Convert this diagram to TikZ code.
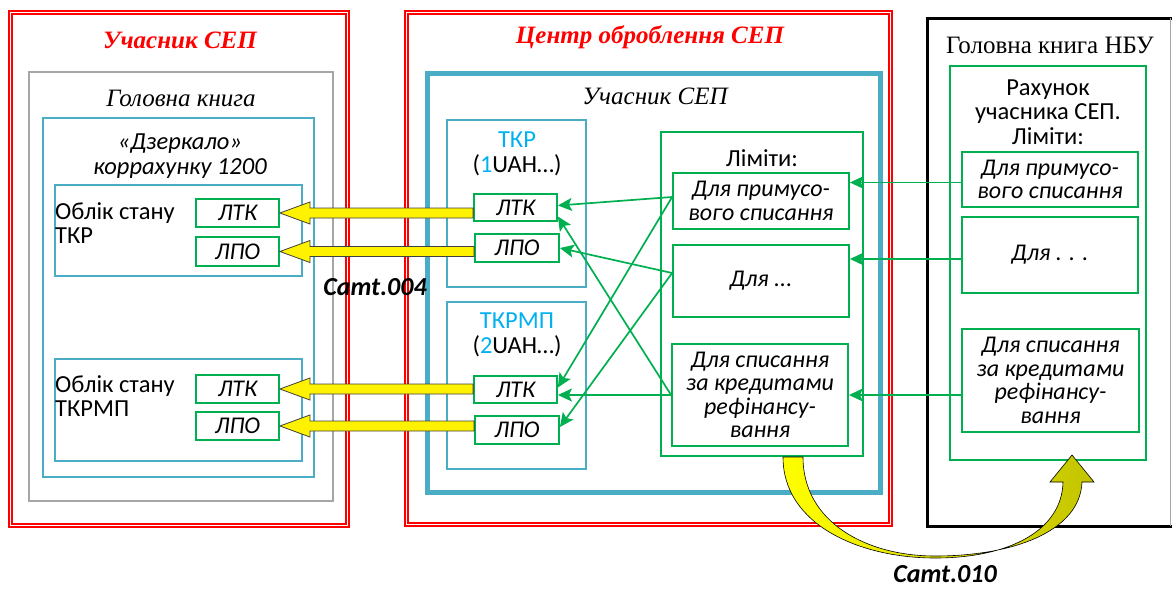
\documentclass[tikz,border=0pt]{standalone}
\usepackage{fontspec}
\setmainfont{Liberation Serif}
\newfontfamily\calfont{Carlito}
\usetikzlibrary{arrows.meta,calc}
\definecolor{sepred}{HTML}{FF0000}
\definecolor{sepgray}{HTML}{A6A6A6}
\definecolor{sepblue}{HTML}{4BACC6}
\definecolor{sepgreen}{HTML}{00B050}
\definecolor{sepcyan}{HTML}{00B0F0}
\definecolor{sepolive}{RGB}{196,196,0}
\definecolor{arrline}{HTML}{404040}
\newcommand\fatarrow[2]{%
  \path let \p1=(#1.west), \p2=(#2.east) in
    [fatarr] (\x2,\y2) -- (\x2+30pt,\y2+11pt) -- (\x2+30pt,\y2+5pt) -- (\x1,\y2+5pt)
    -- (\x1,\y2-5pt) -- (\x2+30pt,\y2-5pt) -- (\x2+30pt,\y2-11pt) -- cycle;}
% box node: style, name, x1, y1, x2, y2, text
\newcommand\bxn[7]{\node[#1, minimum width={#5pt-#3pt}, minimum height={#6pt-#4pt}]
  (#2) at ({(#3+#5)/2},{(#4+#6)/2}) {#7};}
\begin{document}
\begin{tikzpicture}[x=1pt,y=-1pt,
  redbox/.style={draw=sepred, double=white, double distance=1.4pt, line width=1.8pt, inner sep=0pt},
  graybox/.style={draw=sepgray, line width=1.5pt, inner sep=0pt},
  bbox/.style={draw=sepblue, line width=2pt, inner sep=0pt},
  thickblue/.style={draw=sepblue, line width=5pt, inner sep=0pt},
  gframe/.style={draw=sepgreen, line width=1.6pt, inner sep=0pt},
  gbox/.style={draw=sepgreen, line width=1.8pt, inner sep=0pt, align=center,
     font=\calfont\itshape\fontsize{24}{23.5}\selectfont},
  ttl/.style={text=sepred, font=\bfseries\itshape\fontsize{25}{28}\selectfont, inner sep=1pt},
  serifit/.style={font=\itshape\fontsize{25}{28}\selectfont, inner sep=1pt},
  serifup/.style={font=\fontsize{25}{28}\selectfont, inner sep=1pt},
  sans/.style={font=\calfont\fontsize{24.5}{24.5}\selectfont, inner sep=1pt, align=center},
  sansit/.style={font=\calfont\itshape\fontsize{24.5}{25}\selectfont, inner sep=1pt, align=center},
  camt/.style={font=\calfont\bfseries\itshape\fontsize{26}{26}\selectfont, inner sep=0pt},
  fatarr/.style={fill=yellow, draw=arrline, line width=0.8pt, line join=miter},
  garr/.style={draw=sepgreen, line width=1.7pt, -{Stealth[length=14pt,width=13pt,inset=3pt]}},
]
\useasboundingbox (0,0) rectangle (1172,590);
% ---------- left block ----------
\bxn{redbox}{lred}{10.5}{12.5}{347.5}{525.5}{}
\node[ttl] (lttl) at (180,40) {Учасник СЕП};
\bxn{graybox}{lgray}{29}{72}{333}{501}{}
\node[serifit] (lgk) at (181,98) {Головна книга};
\bxn{bbox}{lmir}{43}{118}{314}{477}{}
\node[sansit] (lmirt) at (180,156) {«Дзеркало»\\коррахунку 1200};
\bxn{bbox}{lst1}{55}{185}{302}{276}{}
\node[sans, align=left, anchor=west] (lst1t) at (54,223) {Облік стану\\ТКР};
\bxn{gbox}{a1}{196}{199}{279}{227}{ЛТК}
\bxn{gbox}{a2}{196}{237}{279}{266}{ЛПО}
\bxn{bbox}{lst2}{55}{359}{302}{461}{}
\node[sans, align=left, anchor=west] (lst2t) at (54,396) {Облік стану\\ТКРМП};
\bxn{gbox}{a3}{196}{375}{279}{403}{ЛТК}
\bxn{gbox}{a4}{196}{412}{279}{440}{ЛПО}
% ---------- middle block ----------
\bxn{redbox}{mred}{406.5}{12.5}{890.5}{524.5}{}
\node[ttl] (mttl) at (650,37) {Центр оброблення СЕП};
\bxn{thickblue}{mpart}{427}{73}{880}{492}{}
\node[serifit] (mpartt) at (655,96) {Учасник СЕП};
\bxn{bbox}{k1}{447}{120}{586}{287}{}
\node[sans] (k1t) at (517,154) {\textcolor{sepcyan}{ТКР}\\(\textcolor{sepcyan}{1}UAH…)};
\bxn{gbox}{m1}{474}{194}{557}{221}{ЛТК}
\bxn{gbox}{m2}{475}{234}{559}{262}{ЛПО}
\bxn{bbox}{k2}{447}{302}{586}{469}{}
\node[sans] (k2t) at (517,335) {\textcolor{sepcyan}{ТКРМП}\\(\textcolor{sepcyan}{2}UAH…)};
\bxn{gbox}{m3}{474}{376}{557}{403}{ЛТК}
\bxn{gbox}{m4}{475}{416}{559}{444}{ЛПО}
\bxn{gframe}{lim}{661}{132}{863}{456}{}
\node[sans] (limt) at (762,158) {Ліміти:};
\bxn{gbox}{lp1}{673}{173}{849}{229}{Для примусо-\\вого списання}
\bxn{gbox}{lp2}{673}{245}{849}{317}{Для ...}
\bxn{gbox}{lp3}{672}{344}{848}{446}{Для списання\\за кредитами\\рефінансу-\\вання}
% ---------- right block ----------
\draw[line width=3pt] (1172,18) -- (927,18) -- (927,526) -- (1172,526);
\draw[sepgray, line width=0.8pt] (1170.5,18) -- (1170.5,526);
\node[serifup] (rttl) at (1050,45) {Головна книга НБУ};
\bxn{gframe}{acc}{950}{66}{1146}{460}{}
\node[sans] (acct) at (1048,112) {Рахунок\\учасника СЕП.\\Ліміти:};
\bxn{gbox}{rp1}{962}{152}{1138}{207}{Для примусо-\\вого списання}
\bxn{gbox}{rp2}{962}{217}{1138}{293}{Для . . .}
\bxn{gbox}{rp3}{962}{329}{1139}{432}{Для списання\\за кредитами\\рефінансу-\\вання}
% ---------- yellow arrows ----------
\fatarrow{m1}{a1}
\fatarrow{m2}{a2}
\fatarrow{m3}{a3}
\fatarrow{m4}{a4}
% ---------- green arrows ----------
\draw[garr] ([yshift=4pt]lp1.west) -- ([yshift=2pt]m1.east);
\draw[garr] ([yshift=4pt]lp1.west) -- ([yshift=2pt]m3.east);
\draw[garr] ([yshift=8pt]lp2.west) -- (m2.east);
\draw[garr] ([yshift=8pt]lp2.west) -- ([yshift=3pt]m4.east);
\draw[garr] (lp3.west) -- ([yshift=-9pt]m1.east);
\draw[garr] (lp3.west) -- (lp3.west -| m3.east);
\draw[garr] ([yshift=-3pt]rp1.west) -- ([yshift=-3pt]rp1.west -| lp1.east);
\draw[garr] ([yshift=-4pt]rp2.west) -- ([yshift=-4pt]rp2.west -| lp2.east);
\draw[garr] (rp3.west |- lp3.west) -- (lp3.east);
% ---------- curved arrow ----------
\shadedraw[left color=yellow, right color=sepolive, draw=black, line width=0.6pt]
  (783,457) .. controls (783,525) and (860,558) .. (935,558)
  .. controls (1010,558) and (1062,530) .. (1063,482)
  -- (1050,482) -- (1072,455) -- (1094,482) -- (1082,482)
  .. controls (1080,532) and (1012,556) .. (935,556)
  .. controls (866,556) and (803,522) .. (803,457) -- cycle;
% ---------- message labels ----------
\node[camt] (c004) at (375,287) {Camt.004};
\node[camt] (c010) at (945,574) {Camt.010};
\end{tikzpicture}
\end{document}
